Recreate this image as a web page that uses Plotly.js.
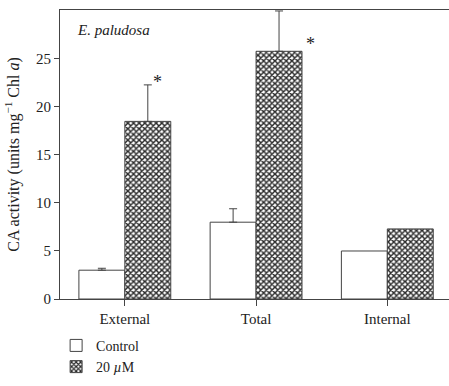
<!DOCTYPE html>
<html><head><meta charset="utf-8">
<script src="https://cdn.plot.ly/plotly-3.0.1.min.js"></script>
<style>html,body{margin:0;padding:0;background:#fff}</style>
</head><body><div id="chart" style="width:449px;height:386px"></div>
<script>
const categories = ["External", "Total", "Internal"];
const controlValues = [3.0, 8.0, 5.0];
const controlErrors = [0.2, 1.4, NaN];
const treatedValues = [18.5, 25.8, 7.3];
const treatedErrors = [3.8, 4.2, NaN];
const asteriskY = [22.8, 26.8, null];
const yTicks = [0, 5, 10, 15, 20, 25];

const serif = "Liberation Serif, Times New Roman, serif";
const asteriskShift = [10, 31, 0];

const traces = [
  {
    type: "bar", name: "Control", x: categories, y: controlValues,
    marker: {color: "#ffffff", line: {color: "#444", width: 1}},
    error_y: {type: "data", symmetric: false, array: controlErrors, arrayminus: controlErrors.map(v => isNaN(v) ? NaN : 0),
      color: "#444", thickness: 1, width: 4}
  },
  {
    type: "bar", name: "20 <i>µ</i>M", x: categories, y: treatedValues,
    marker: {color: "#ffffff", line: {color: "#444", width: 1},
      pattern: {shape: "x", fgcolor: "#2a2a2a", bgcolor: "#ffffff", size: 4, solidity: 0.6}},
    error_y: {type: "data", symmetric: false, array: treatedErrors, arrayminus: treatedErrors.map(v => isNaN(v) ? NaN : 0),
      color: "#444", thickness: 1, width: 4}
  }
];

const annotations = [{
  text: "<i>E. paludosa</i>", xref: "paper", yref: "paper", x: 0.038, y: 0.93,
  xanchor: "left", yanchor: "middle", showarrow: false,
  font: {family: serif, size: 15, color: "#222"}
}];
categories.forEach((c, i) => {
  if (asteriskY[i] !== null) {
    annotations.push({
      text: "*", x: c, y: asteriskY[i], xref: "x", yref: "y",
      xshift: 23 + asteriskShift[i], yshift: -2, showarrow: false, yanchor: "middle",
      font: {family: serif, size: 18, color: "#222"}
    });
  }
});

const layout = {
  width: 449, height: 386,
  margin: {l: 60, r: 0, t: 10, b: 87},
  paper_bgcolor: "#fff", plot_bgcolor: "#fff",
  barmode: "group", bargap: 0.3, bargroupgap: 0,
  font: {family: serif, size: 15, color: "#222"},
  xaxis: {
    range: [-0.494, 2.47], showline: true, mirror: true, linecolor: "#444", linewidth: 1,
    ticks: "outside", ticklen: 6, tickcolor: "#444", showgrid: false,
    tickfont: {family: serif, size: 15, color: "#222"}
  },
  yaxis: {
    range: [0, 30.1], tickvals: yTicks, showline: true, linecolor: "#444", linewidth: 1,
    ticks: "outside", ticklen: 5, tickcolor: "#444", showgrid: false, zeroline: false,
    tickfont: {family: serif, size: 15, color: "#222"},
    title: {text: "CA activity (units mg<sup>−1</sup> Chl <i>a</i>)", font: {family: serif, size: 16, color: "#222"}, standoff: 12}
  },
  showlegend: true,
  legend: {x: -0.01, xanchor: "left", y: -0.29, yanchor: "bottom", orientation: "v",
    font: {family: serif, size: 14, color: "#222"}, bgcolor: "rgba(0,0,0,0)", tracegroupgap: 0},
  annotations: annotations
};

Plotly.newPlot("chart", traces, layout, {displayModeBar: false, staticPlot: true});
</script></body></html>
